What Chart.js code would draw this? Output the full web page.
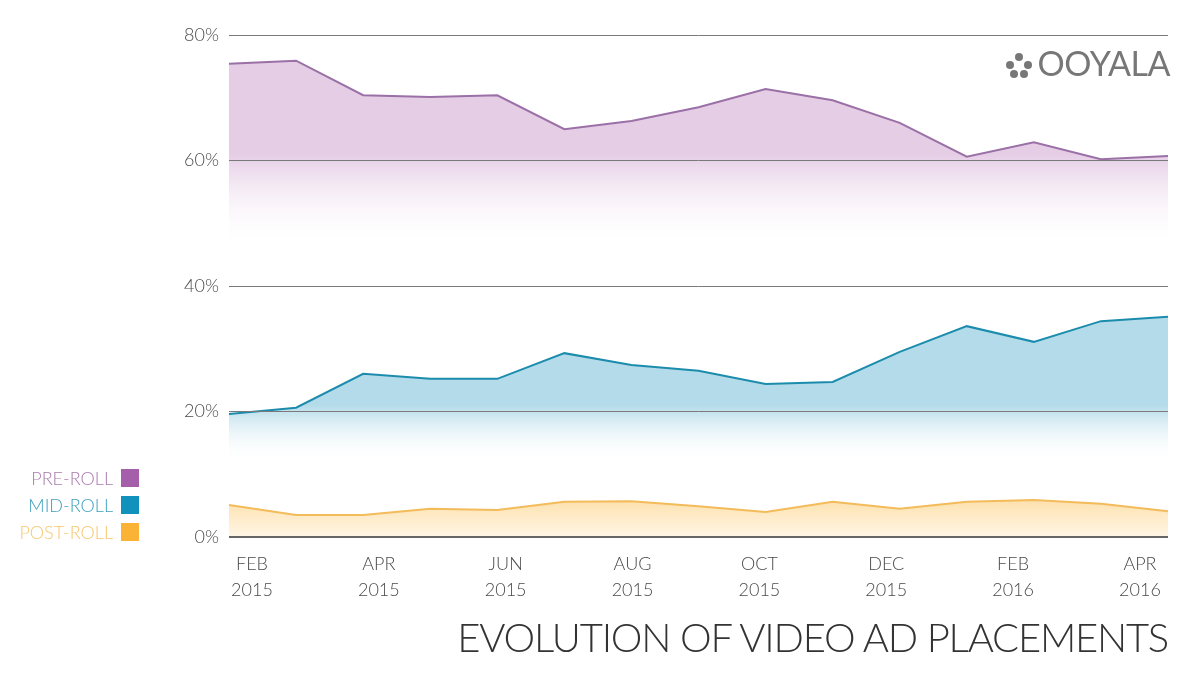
<!DOCTYPE html>
<html>
<head>
<meta charset="utf-8">
<script src="https://cdn.jsdelivr.net/npm/chart.js@4.4.1/dist/chart.umd.min.js"></script>
<style>
  html, body { margin: 0; padding: 0; background: #fff; }
  #wrap { position: relative; width: 1200px; height: 699px; font-family: Lato, "Open Sans", sans-serif; }
  #chart { position: absolute; left: 0; top: 0; }
  .legend { position: absolute; right: 1061px; font-size: 18px; font-weight: 300; line-height: 18px; white-space: nowrap; }
  .legend span { display: inline-block; width: 18px; height: 18px; margin-left: 8px; vertical-align: top; }
  #title { position: absolute; right: 32px; top: 613px; font-size: 40px; font-weight: 300; letter-spacing: -1.2px; color: #333; white-space: nowrap; }
  #logo { position: absolute; right: 30px; top: 42px; color: #777; font-size: 34px; font-weight: 400; letter-spacing: -0.5px; }
  #logo .dots { display: inline-block; position: relative; width: 26px; height: 24px; margin-right: 6px; vertical-align: -1px; }
  #logo .dots i { position: absolute; width: 8px; height: 8px; border-radius: 50%; background: #777; }
</style>
</head>
<body>
<div id="wrap">
  <canvas id="chart" width="1200" height="699"></canvas>
  <div class="legend" style="top:469px;color:#a97bae">PRE-ROLL<span style="background:#a55eaa"></span></div>
  <div class="legend" style="top:496px;color:#3d9fbd">MID-ROLL<span style="background:#1192bd"></span></div>
  <div class="legend" style="top:523px;color:#f7c76c">POST-ROLL<span style="background:#fbb335"></span></div>
  <div id="logo"><span class="dots"><i style="left:9px;top:0"></i><i style="left:0;top:8px"></i><i style="left:18px;top:8px"></i><i style="left:4px;top:17px"></i><i style="left:14px;top:17px"></i></span>OOYALA</div>
  <div id="title">EVOLUTION OF VIDEO AD PLACEMENTS</div>
</div>
<script>
const months = ['Feb 2015', 'Mar 2015', 'Apr 2015', 'May 2015', 'Jun 2015', 'Jul 2015', 'Aug 2015',
                'Sep 2015', 'Oct 2015', 'Nov 2015', 'Dec 2015', 'Jan 2016', 'Feb 2016', 'Mar 2016', 'Apr 2016'];
const preRoll  = [75.4, 75.9, 70.4, 70.1, 70.4, 65.0, 66.3, 68.5, 71.4, 69.6, 66.0, 60.6, 62.9, 60.2, 60.7];
const midRoll  = [19.6, 20.6, 26.0, 25.2, 25.2, 29.3, 27.4, 26.5, 24.4, 24.7, 29.5, 33.6, 31.1, 34.4, 35.1];
const postRoll = [5.1, 3.5, 3.5, 4.5, 4.3, 5.6, 5.7, 4.9, 4.0, 5.6, 4.5, 5.6, 5.9, 5.3, 4.1];
const tickLabels = [['FEB', '2015'], ['APR', '2015'], ['JUN', '2015'], ['AUG', '2015'],
                    ['OCT', '2015'], ['DEC', '2015'], ['FEB', '2016'], ['APR', '2016']];
const yTicks = [0, 20, 40, 60, 80];

// vertical fade: solid colour down to `from`, clear at `to`
function fade(color, from, to) {
    return (context) => {
        const chart = context.chart;
        if (!chart.chartArea) return null;
        const y = chart.scales.y;
        const g = chart.ctx.createLinearGradient(0, y.getPixelForValue(from), 0, y.getPixelForValue(to));
        g.addColorStop(0, color);
        g.addColorStop(1, 'rgba(255,255,255,0)');
        return g;
    };
}

function postFill(context) {
    const chart = context.chart;
    if (!chart.chartArea) return null;
    const y = chart.scales.y;
    const g = chart.ctx.createLinearGradient(0, y.getPixelForValue(6), 0, y.getPixelForValue(0));
    g.addColorStop(0, '#fde1ad');
    g.addColorStop(1, '#fff6e6');
    return g;
}

const ctx = document.getElementById('chart').getContext('2d');

new Chart(ctx, {
    type: 'line',
    data: {
        labels: months,
        datasets: [
            { label: 'PRE-ROLL', data: preRoll, borderColor: '#9a70a6', backgroundColor: fade('#e5cde6', 61, 46), fill: 'origin' },
            { label: 'MID-ROLL', data: midRoll, borderColor: '#1c8cad', backgroundColor: fade('#b4dbe9', 21, 12), fill: 'origin' },
            { label: 'POST-ROLL', data: postRoll, borderColor: '#f3bb5a', backgroundColor: postFill, fill: 'origin' }
        ]
    },
    options: {
        responsive: false,
        animation: false,
        layout: { padding: { top: 35, right: 32, left: 0, bottom: 0 } },
        elements: {
            line: { tension: 0, borderWidth: 2 },
            point: { radius: 0 }
        },
        plugins: {
            legend: { display: false },
            tooltip: { enabled: false }
        },
        scales: {
            x: { display: false, offset: false },
            x2: {
                type: 'linear',
                position: 'bottom',
                min: -0.181,
                max: 7.221,
                grid: { display: false },
                border: { display: false },
                afterFit: (s) => { s.height = 162; },
                ticks: {
                    stepSize: 1,
                    includeBounds: false,
                    autoSkip: false,
                    maxRotation: 0,
                    padding: 7,
                    color: '#4a4a4a',
                    font: { family: 'Lato', size: 18, weight: 300, lineHeight: 1.4 },
                    callback: (v) => tickLabels[v] || ''
                }
            },
            y: {
                min: 0,
                max: 80,
                afterFit: (s) => { s.width = 229; },
                afterBuildTicks: (s) => { s.ticks = yTicks.map(v => ({ value: v })); },
                border: { display: false },
                grid: {
                    z: 1,
                    drawTicks: false,
                    color: (c) => c.tick.value === 0 ? '#666' : '#7a7a7a',
                    lineWidth: (c) => c.tick.value === 0 ? 2 : 1
                },
                ticks: {
                    padding: 10,
                    color: '#4a4a4a',
                    font: { family: 'Lato', size: 18, weight: 300 },
                    callback: (v) => v + '%'
                }
            }
        }
    }
});
</script>
</body>
</html>
